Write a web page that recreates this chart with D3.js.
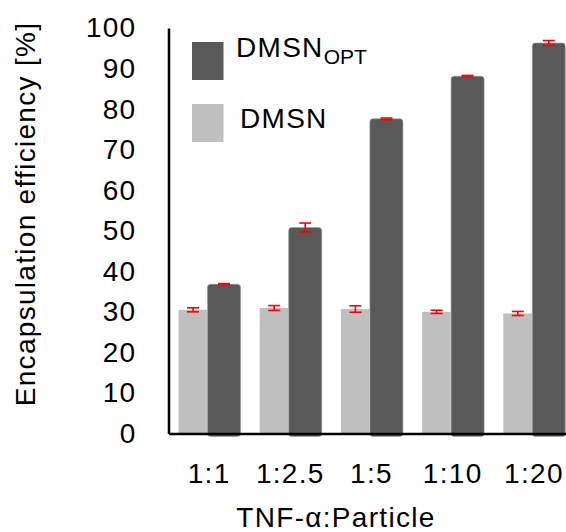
<!DOCTYPE html>
<html>
<head>
<meta charset="utf-8">
<script src="https://cdn.jsdelivr.net/npm/d3@7"></script>
<style>
  body { margin: 0; background: #fff; }
  svg text { font-family: "Liberation Sans", Arial, sans-serif; fill: #000; letter-spacing: 1.3px; }
</style>
</head>
<body>
<div id="chart"></div>
<script>
// data
var ratios = ["1:1", "1:2.5", "1:5", "1:10", "1:20"];
var dmsn = [30.5, 30.95, 30.7, 30.0, 29.6];
var dmsnErr = [0.5, 0.6, 0.8, 0.4, 0.5];
var dmsnOpt = [36.8, 50.8, 77.6, 88.1, 96.3];
var dmsnOptErr = [0.15, 1.1, 0.2, 0.2, 0.6];
var yTicks = [0, 10, 20, 30, 40, 50, 60, 70, 80, 90, 100];

var W = 566, H = 532;
var plotLeft = 168.5, plotBottom = 433.5, plotTop = 28;

var svg = d3.select("#chart").append("svg")
  .attr("width", W).attr("height", H);

var x = d3.scaleBand().domain(ratios).range([plotLeft, plotLeft + 81.2 * 5]).padding(0);
var y = d3.scaleLinear().domain([0, 100]).range([plotBottom, plotTop]);

var bars = ratios.map(function(r, i) {
  return { cat: r, light: dmsn[i], lightErr: dmsnErr[i], dark: dmsnOpt[i], darkErr: dmsnOptErr[i] };
});

var g = svg.append("g");

// light bars (DMSN)
g.selectAll("rect.light")
  .data(bars).enter().append("rect")
  .attr("class", "light")
  .attr("x", function(d) { return x(d.cat) + 10; })
  .attr("width", 28.5)
  .attr("y", function(d) { return y(d.light); })
  .attr("height", function(d) { return plotBottom - y(d.light); })
  .style("fill", "#bfbfbf");

// dark bars (DMSN_OPT) with soft edge
g.selectAll("rect.dark")
  .data(bars).enter().append("rect")
  .attr("class", "dark")
  .attr("x", function(d) { return x(d.cat) + 39; })
  .attr("width", 33)
  .attr("y", function(d) { return y(d.dark); })
  .attr("height", function(d) { return plotBottom + 3 - y(d.dark); })
  .attr("rx", 3)
  .style("fill", "#595959")
  .style("stroke", "#9a9a9a")
  .style("stroke-width", 1)
  .style("stroke-opacity", 0.6);

// error bars
function errBars(cls, off, val, err) {
  var eg = g.selectAll("g." + cls).data(bars).enter().append("g")
    .attr("class", cls)
    .attr("transform", function(d) { return "translate(" + (x(d.cat) + off) + ",0)"; })
    .style("stroke", "#ff0000").style("stroke-width", 1.6);
  eg.append("line")
    .attr("x1", 0).attr("x2", 0)
    .attr("y1", function(d) { return y(d[val] + d[err]); })
    .attr("y2", function(d) { return y(d[val] - d[err]); });
  eg.append("line")
    .attr("x1", -6).attr("x2", 6)
    .attr("y1", function(d) { return y(d[val] + d[err]); })
    .attr("y2", function(d) { return y(d[val] + d[err]); });
  eg.append("line")
    .attr("x1", -6).attr("x2", 6)
    .attr("y1", function(d) { return y(d[val] - d[err]); })
    .attr("y2", function(d) { return y(d[val] - d[err]); });
}
errBars("errL", 24.5, "light", "lightErr");
errBars("errD", 55.5, "dark", "darkErr");

// axes
var yAxis = d3.axisLeft(y).tickValues(yTicks).tickSize(0).tickPadding(32);
var yG = svg.append("g").attr("transform", "translate(" + plotLeft + ",0)").call(yAxis);
yG.select(".domain").attr("stroke", "#000").attr("stroke-width", 2.5);
yG.selectAll("text").style("font-size", "28px");

var xAxis = d3.axisBottom(x).tickSize(0).tickPadding(30);
var xG = svg.append("g").attr("transform", "translate(0," + plotBottom + ")").call(xAxis);
xG.select(".domain").attr("stroke", "#000").attr("stroke-width", 2.5);
xG.selectAll("text").style("font-size", "28px");
yG.attr("font-family", null);
xG.attr("font-family", null);

// axis titles
svg.append("text")
  .attr("transform", "translate(35,214) rotate(-90)")
  .attr("text-anchor", "middle")
  .style("font-size", "28px")
  .text("Encapsulation efficiency [%]");

svg.append("text")
  .attr("x", 336).attr("y", 527)
  .attr("text-anchor", "middle")
  .style("font-size", "28px")
  .text("TNF-α:Particle");

// legend
var legend = svg.append("g");
legend.append("rect").attr("x", 192).attr("y", 42).attr("width", 31.5).attr("height", 38).style("fill", "#595959");
legend.append("rect").attr("x", 192).attr("y", 104).attr("width", 31.5).attr("height", 38).style("fill", "#bfbfbf");
var t1 = legend.append("text").attr("x", 236).attr("y", 57).style("font-size", "28px");
t1.append("tspan").text("DMSN");
t1.append("tspan").attr("dy", 7).style("font-size", "21px").style("letter-spacing", "0px").text("OPT");
legend.append("text").attr("x", 240).attr("y", 128).style("font-size", "28px").text("DMSN");
</script>
</body>
</html>
